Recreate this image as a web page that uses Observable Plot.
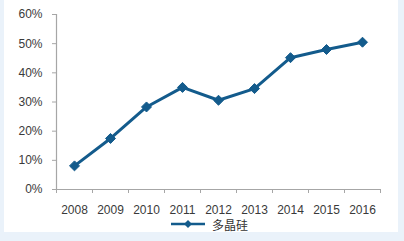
<!DOCTYPE html>
<html>
<head>
<meta charset="utf-8">
<script src="https://cdn.jsdelivr.net/npm/d3@7"></script>
<script src="https://cdn.jsdelivr.net/npm/@observablehq/plot@0.6"></script>
<style>
  html, body { margin: 0; padding: 0; background: #eaf2fa; width: 404px; height: 241px; overflow: hidden; }
  #frame { position: absolute; left: 4px; top: 0; width: 394px; height: 232px; background: #ffffff; }
  #chart { position: absolute; left: 0; top: 0; }
  #legend { position: absolute; left: 171px; top: 215px; height: 18px; display: flex; align-items: center;
            font-family: "Noto Sans CJK SC", "Liberation Sans", sans-serif; font-size: 12px; color: #333; }
  #legend svg { margin-right: 7px; }
</style>
</head>
<body>
<div id="frame"></div>
<div id="chart"></div>
<div id="legend"></div>
<script>
const years = [2008, 2009, 2010, 2011, 2012, 2013, 2014, 2015, 2016];
const shares = [0.081, 0.175, 0.283, 0.350, 0.306, 0.346, 0.452, 0.480, 0.505];
const yTicks = [0, 0.1, 0.2, 0.3, 0.4, 0.5, 0.6];
const seriesName = "多晶硅";

const lineColor = "#135b8c";
const axisColor = "#a6a6a6";
const textColor = "#3a3a3a";

const data = years.map((year, i) => ({year, share: shares[i]}));
const boundaries = [years[0] - 0.5, ...years.map(y => y + 0.5)];

const chart = Plot.plot({
  width: 404,
  height: 241,
  marginLeft: 56,
  marginRight: 24,
  marginTop: 14,
  marginBottom: 52,
  style: {background: "transparent", fontFamily: "'Liberation Sans', Arial, sans-serif", fontSize: "12px", color: textColor},
  x: {domain: [years[0] - 0.5, years[years.length - 1] + 0.5]},
  y: {domain: [0, 0.6]},
  marks: [
    Plot.ruleX([years[0] - 0.5], {stroke: axisColor, strokeWidth: 1.2}),
    Plot.ruleY([0], {stroke: axisColor, strokeWidth: 1.2}),
    Plot.axisY({ticks: yTicks, tickFormat: d => Math.round(d * 100) + "%", tickSize: 4, tickPadding: 10,
      stroke: axisColor, fill: textColor, label: null, fontSize: 12}),
    Plot.axisX({ticks: boundaries, tickFormat: () => "", tickSize: 4, stroke: axisColor, label: null}),
    Plot.axisX({ticks: years, tickFormat: d => String(d), tickSize: 0, tickPadding: 16, fill: textColor, label: null, fontSize: 12}),
    Plot.line(data, {x: "year", y: "share", stroke: lineColor, strokeWidth: 3, strokeLinejoin: "round"}),
    Plot.dot(data, {x: "year", y: "share", symbol: "diamond2", r: 4.5, fill: lineColor, stroke: lineColor, strokeWidth: 1})
  ]
});
document.getElementById("chart").appendChild(chart);

// legend
const legend = d3.select("#legend");
const ls = legend.append("svg").attr("width", 34).attr("height", 12);
ls.append("line").attr("x1", 0).attr("x2", 34).attr("y1", 6).attr("y2", 6).attr("stroke", lineColor).attr("stroke-width", 2.5);
ls.append("path").attr("d", d3.symbol(d3.symbolDiamond2, 40)()).attr("transform", "translate(17,6)").attr("fill", lineColor);
legend.append("span").text(seriesName);
</script>
</body>
</html>
